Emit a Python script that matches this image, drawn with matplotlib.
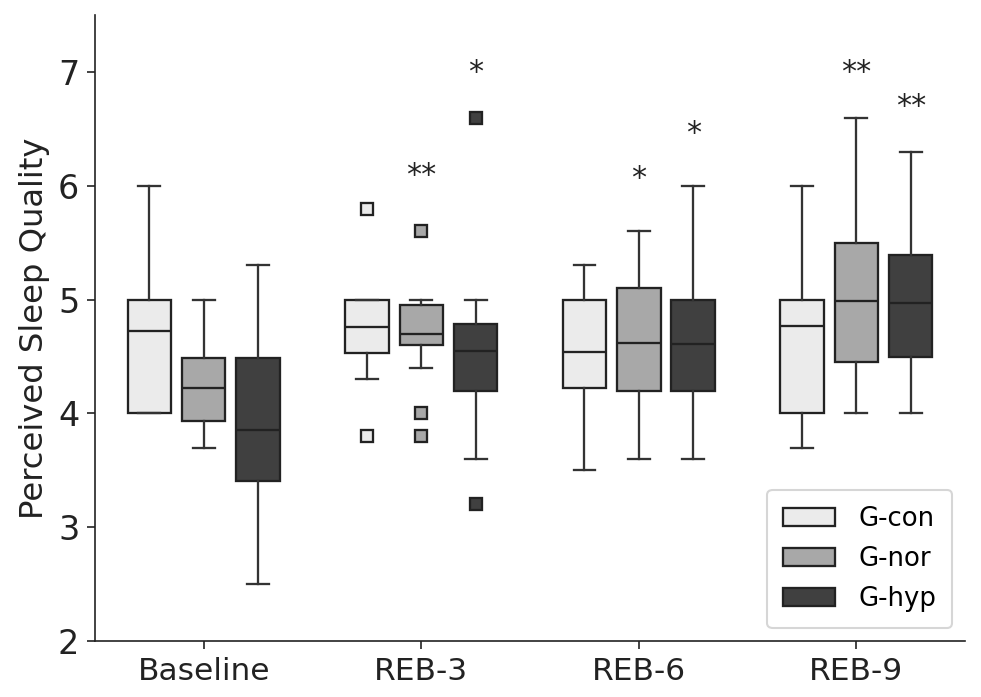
import matplotlib
matplotlib.use('Agg')
import matplotlib.pyplot as plt
from matplotlib.patches import Patch

# time points and groups
timepoints = ['Baseline', 'REB-3', 'REB-6', 'REB-9']
groups = ['G-con', 'G-nor', 'G-hyp']
colors = ['#ebebeb', '#a8a8a8', '#404040']

# box statistics, one list per group (order = timepoints)
con_q1 = [4.00, 4.53, 4.22, 4.00]
con_med = [4.72, 4.76, 4.54, 4.77]
con_q3 = [5.00, 5.00, 5.00, 5.00]
con_lo = [4.00, 4.30, 3.50, 3.70]
con_hi = [6.00, 5.00, 5.30, 6.00]
con_fliers = [[], [5.8, 3.8], [], []]

nor_q1 = [3.93, 4.60, 4.20, 4.45]
nor_med = [4.22, 4.70, 4.62, 4.99]
nor_q3 = [4.49, 4.95, 5.10, 5.50]
nor_lo = [3.70, 4.40, 3.60, 4.00]
nor_hi = [5.00, 5.00, 5.60, 6.60]
nor_fliers = [[], [5.6, 4.0, 3.8], [], []]

hyp_q1 = [3.41, 4.20, 4.20, 4.50]
hyp_med = [3.85, 4.55, 4.61, 4.97]
hyp_q3 = [4.49, 4.79, 5.00, 5.39]
hyp_lo = [2.50, 3.60, 3.60, 4.00]
hyp_hi = [5.30, 5.00, 6.00, 6.30]
hyp_fliers = [[], [6.6, 3.2], [], []]

# significance markers: (timepoint index, group index, text, y)
star_tp = [1, 1, 2, 2, 3, 3]
star_grp = [1, 2, 1, 2, 1, 2]
star_txt = ['**', '*', '*', '*', '**', '**']
star_y = [6.09, 7.0, 6.06, 6.46, 7.0, 6.70]

all_stats = [
    (con_q1, con_med, con_q3, con_lo, con_hi, con_fliers),
    (nor_q1, nor_med, nor_q3, nor_lo, nor_hi, nor_fliers),
    (hyp_q1, hyp_med, hyp_q3, hyp_lo, hyp_hi, hyp_fliers),
]

plt.rcParams['font.family'] = 'DejaVu Sans'
fig = plt.figure(figsize=(981 / 150, 697 / 150), dpi=150)
ax = fig.add_axes([0.0968, 0.0803, 0.887, 0.898])

offsets = [-0.25, 0.0, 0.25]
edge = '#222222'
lw = 1.1

for g, (q1, med, q3, lo, hi, fl) in enumerate(all_stats):
    stats = []
    for i in range(len(timepoints)):
        stats.append({'q1': q1[i], 'med': med[i], 'q3': q3[i],
                      'whislo': lo[i], 'whishi': hi[i], 'fliers': fl[i]})
    pos = [i + offsets[g] for i in range(len(timepoints))]
    ax.bxp(stats, positions=pos, widths=0.2, patch_artist=True,
           showfliers=True, manage_ticks=False,
           boxprops=dict(facecolor=colors[g], edgecolor=edge, linewidth=lw),
           medianprops=dict(color=edge, linewidth=lw),
           whiskerprops=dict(color='#333333', linewidth=lw),
           capprops=dict(color='#333333', linewidth=lw),
           flierprops=dict(marker='s', markersize=5.3, markerfacecolor=colors[g],
                           markeredgecolor=edge, markeredgewidth=1.1, linestyle='none'))

for t, g, s, y in zip(star_tp, star_grp, star_txt, star_y):
    ax.text(t + offsets[g], y, s, ha='center', va='center', fontsize=14.5, color='#222222')

ax.set_xlim(-0.5, 3.5)
ax.set_ylim(2, 7.5)
ax.set_xticks(range(len(timepoints)))
ax.set_xticklabels(timepoints)
ax.set_yticks([2, 3, 4, 5, 6, 7])
ax.tick_params(axis='x', labelsize=15, colors='#222222', length=4)
ax.tick_params(axis='y', labelsize=16, colors='#222222', length=4)
ax.set_ylabel('Perceived Sleep Quality', fontsize=15.5, color='#222222')
for side in ['top', 'right']:
    ax.spines[side].set_visible(False)
for side in ['left', 'bottom']:
    ax.spines[side].set_color('#222222')

handles = [Patch(facecolor=c, edgecolor=edge, linewidth=lw, label=l) for c, l in zip(colors, groups)]
ax.legend(handles=handles, loc='lower right', fontsize=12.5, borderpad=0.6,
          labelspacing=0.55, handletextpad=0.9, borderaxespad=0.5)

fig.savefig('out.png', dpi=150)
